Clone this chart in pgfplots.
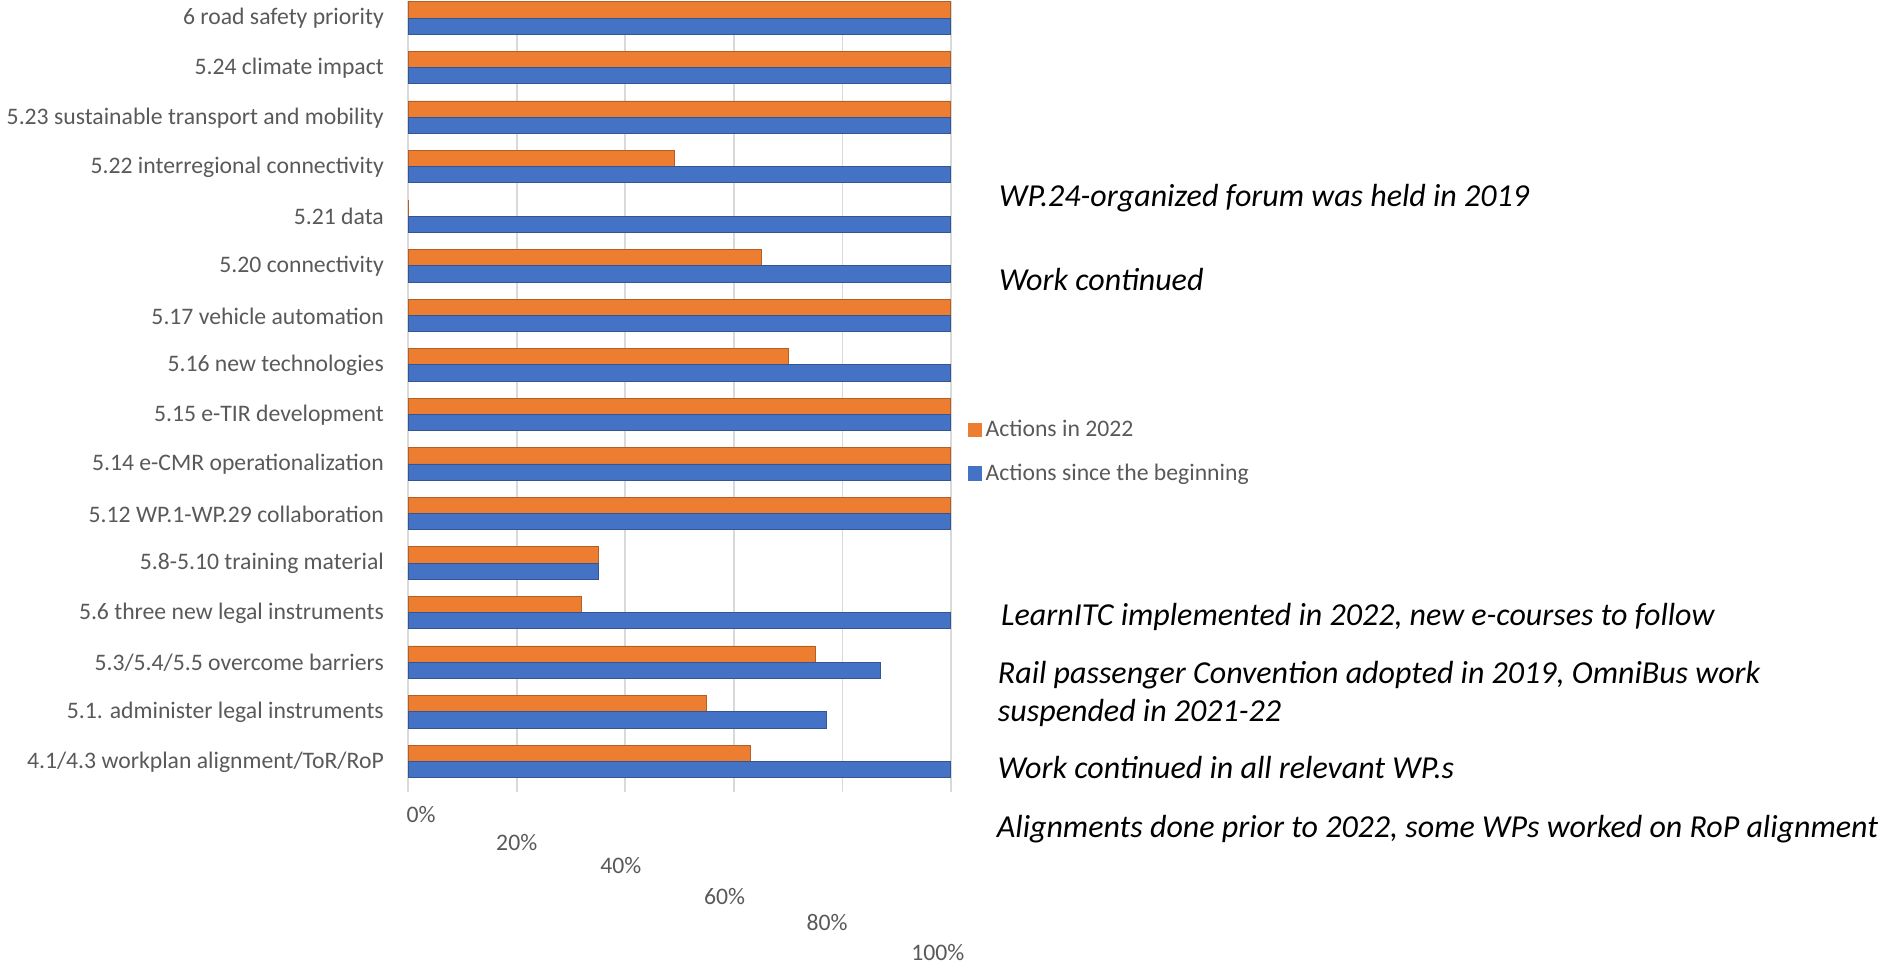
\documentclass[border=0pt]{standalone}
\usepackage{pgfplots}
\pgfplotsset{compat=1.18}
\usepackage{pgfplotstable}
\usepackage{fontspec}
\setmainfont{Carlito}
\definecolor{xlorange}{HTML}{ED7D31}
\definecolor{xlblue}{HTML}{4472C4}
\definecolor{txtgray}{HTML}{595959}
\definecolor{gridgray}{HTML}{D9D9D9}
\pgfplotstableread{
y orange blue
0 63 100
1 55 77
2 75 87
3 32 100
4 35 35
5 100 100
6 100 100
7 100 100
8 70 100
9 100 100
10 65 100
11 0 100
12 49 100
13 100 100
14 100 100
15 100 100
}\data
\begin{document}
\begin{tikzpicture}
\begin{axis}[
  scale only axis, width=268pt, height=390.5pt,
  xmin=0, xmax=100, ymin=-0.6, ymax=15.36,
  xbar, bar width=8pt,
  axis line style={draw=none},
  xmajorgrids, grid style={gridgray, line width=0.8pt},
  xtick={0,20,40,60,80,100}, xticklabels={},
  ytick={0,...,15},
  yticklabels={4.1/4.3 workplan alignment/ToR/RoP,5.1. administer legal instruments,5.3/5.4/5.5 overcome barriers,5.6 three new legal instruments,5.8-5.10 training material,5.12 WP.1-WP.29 collaboration,5.14 e-CMR operationalization,5.15 e-TIR development,5.16 new technologies,5.17 vehicle automation,5.20 connectivity,5.21 data,5.22 interregional connectivity,5.23 sustainable transport and mobility,5.24 climate impact,6 road safety priority},
  y tick label style={font=\fontsize{11.7}{14}\selectfont, text=txtgray, xshift=-8.5pt},
  major tick length=0pt,
  clip=false,
  legend style={at={(1.03,0.43)}, anchor=west, draw=none, fill=none,
    font=\fontsize{11.7}{14}\selectfont, text=txtgray, row sep=8pt,
    inner sep=0pt},
  legend cell align=left,
]
\addplot[bar shift=4.3pt, draw=xlorange!75!black, line width=0.4pt, fill=xlorange,
  legend image code/.code={\fill[xlorange] (0pt,-3.25pt) rectangle (6.5pt,3.25pt);}]
  table[x=orange, y=y] {\data};
\addlegendentry{Actions in 2022}
\addplot[bar shift=-3.7pt, draw=xlblue!75!black, line width=0.4pt, fill=xlblue,
  legend image code/.code={\fill[xlblue] (0pt,-3.25pt) rectangle (6.5pt,3.25pt);}]
  table[x=blue, y=y] {\data};
\addlegendentry{Actions since the beginning}

\begin{scope}[every node/.style={font=\fontsize{11.7}{14}\selectfont, text=txtgray}]
\node at (axis cs:2.4,-1.06) {0\%};
\node at (axis cs:20.0,-1.62) {20\%};
\node at (axis cs:39.2,-2.10) {40\%};
\node at (axis cs:58.3,-2.71) {60\%};
\node at (axis cs:77.2,-3.24) {80\%};
\node at (axis cs:97.6,-3.84) {100\%};
\end{scope}

\begin{scope}[every node/.style={anchor=west, inner sep=0pt, font=\fontsize{15.8}{19}\selectfont\itshape}]
\node at (axis cs:108.8,11.38) {WP.24-organized forum was held in 2019};
\node at (axis cs:108.8,9.73) {Work continued};
\node at (axis cs:109.2,2.92) {LearnITC implemented in 2022, new e-courses to follow};
\node at (axis cs:108.6,1.76) {Rail passenger Convention adopted in 2019, OmniBus work};
\node at (axis cs:108.6,0.99) {suspended in 2021-22};
\node at (axis cs:108.6,-0.12) {Work continued in all relevant WP.s};
\node at (axis cs:108.4,-1.35) {Alignments done prior to 2022, some WPs worked on RoP alignment};
\end{scope}
\end{axis}
\end{tikzpicture}
\end{document}
